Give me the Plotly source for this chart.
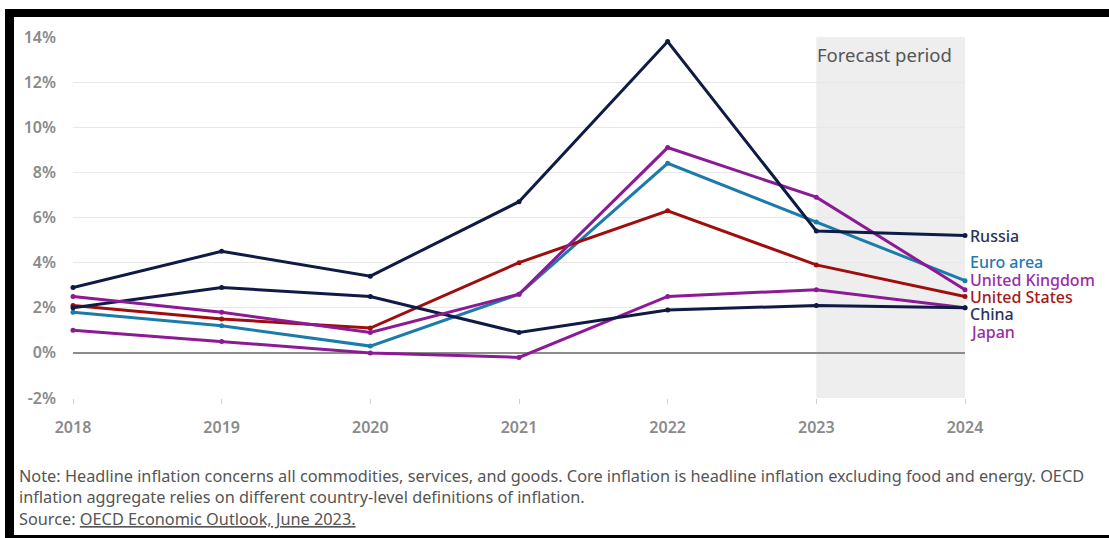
import plotly.graph_objects as go

# Headline inflation, year-on-year % (2023-2024 are projections)
years = [2018, 2019, 2020, 2021, 2022, 2023, 2024]
russia = [2.9, 4.5, 3.4, 6.7, 13.8, 5.4, 5.2]
china = [2.0, 2.9, 2.5, 0.9, 1.9, 2.1, 2.0]
euro_area = [1.8, 1.2, 0.3, 2.6, 8.4, 5.8, 3.2]
united_kingdom = [2.5, 1.8, 0.9, 2.6, 9.1, 6.9, 2.8]
united_states = [2.1, 1.5, 1.1, 4.0, 6.3, 3.9, 2.5]
japan = [1.0, 0.5, 0.0, -0.2, 2.5, 2.8, 2.0]

y_tick_values = [-2, 0, 2, 4, 6, 8, 10, 12, 14]
y_tick_labels = ["-2%", "0%", "2%", "4%", "6%", "8%", "10%", "12%", "14%"]
forecast_start, forecast_end = 2023, 2024

NAVY = "#0f1b44"
BLUE = "#1c7bab"
PURPLE = "#8c1a95"
RED = "#a00d0d"

FONT = "Noto Sans"
W, H = 1109, 538
ML, MR, MT, MB = 73, 144, 37, 140
PW, PH = W - ML - MR, H - MT - MB


def px(x):
    return (x - ML) / PW


def py(y):
    return (H - MB - y) / PH


# name, values, line colour, label colour, label vertical nudge (px, +up)
series = [
    ("Euro area", euro_area, BLUE, "#1f7ab0", 19),
    ("United States", united_states, RED, "#a21a1a", -1),
    ("Japan", japan, PURPLE, "#9a2ca6", -24),
    ("China", china, NAVY, "#2a3458", -6),
    ("United Kingdom", united_kingdom, PURPLE, "#9a2ca6", 10),
    ("Russia", russia, NAVY, "#2a3458", 0),
]

fig = go.Figure()
for name, vals, col, _, _ in series:
    fig.add_trace(go.Scatter(
        x=years, y=vals, name=name, mode="lines+markers",
        line=dict(color=col, width=3),
        marker=dict(color=col, size=5),
        cliponaxis=False, showlegend=False,
    ))

annotations = []
for name, vals, _, tcol, nudge in series:
    annotations.append(dict(
        x=years[-1], y=vals[-1], xref="x", yref="y",
        text=name, showarrow=False, xanchor="left", yanchor="middle",
        xshift=3, yshift=nudge,
        font=dict(family=FONT, size=16, color=tcol, weight=500),
    ))

annotations.append(dict(
    x=forecast_start, y=1, xref="x", yref="paper",
    text="Forecast period", showarrow=False, xanchor="left", yanchor="top",
    xshift=-1, yshift=-3,
    font=dict(family=FONT, size=18.5, color="#555555"),
))

note_lines = [
    ("Note: Headline inflation concerns all commodities, services, and goods. "
     "Core inflation is headline inflation excluding food and energy. OECD", 476),
    ("inflation aggregate relies on different country-level definitions of inflation.", 497),
    ("Source: <u>OECD Economic Outlook, June 2023.</u>", 519),
]
for txt, ypix in note_lines:
    annotations.append(dict(
        x=px(17), y=py(ypix), xref="paper", yref="paper",
        text=txt, showarrow=False, xanchor="left", yanchor="middle",
        font=dict(family=FONT, size=16.3, color="#555555"),
    ))

shapes = [
    # forecast band
    dict(type="rect", xref="x", yref="paper", x0=forecast_start, x1=forecast_end,
         y0=0, y1=1, fillcolor="#eeeeee", line=dict(width=0), layer="below"),
    # frame
    dict(type="rect", xref="paper", yref="paper", x0=px(5), x1=px(W), y0=py(17), y1=py(9),
         fillcolor="#000000", line=dict(width=0)),
    dict(type="rect", xref="paper", yref="paper", x0=px(5), x1=px(14), y0=py(H), y1=py(9),
         fillcolor="#000000", line=dict(width=0)),
    dict(type="rect", xref="paper", yref="paper", x0=px(5), x1=px(W), y0=py(H), y1=py(535),
         fillcolor="#000000", line=dict(width=0)),
]

fig.update_layout(
    width=W, height=H,
    margin=dict(l=ML, r=MR, t=MT, b=MB, pad=0),
    paper_bgcolor="white", plot_bgcolor="rgba(0,0,0,0)",
    font=dict(family=FONT),
    shapes=shapes, annotations=annotations,
    xaxis=dict(
        range=[years[0], years[-1]], tickvals=years, ticktext=[str(y) for y in years],
        showgrid=False, zeroline=False, showline=False,
        ticks="outside", ticklen=5, tickcolor="#cfcfcf", tickwidth=1,
        tickfont=dict(family=FONT, size=16, color="#8a8a8a", weight=600),
        ticklabelstandoff=10,
    ),
    yaxis=dict(
        range=[-2, 14], tickvals=y_tick_values, ticktext=y_tick_labels,
        showgrid=True, gridcolor="#e8e8e8", gridwidth=1,
        zeroline=True, zerolinecolor="#8c8c8c", zerolinewidth=1.5,
        showline=False, ticks="",
        tickfont=dict(family=FONT, size=16, color="#8a8a8a", weight=600),
        ticklabelstandoff=16,
    ),
)

fig.write_html("out.html")
